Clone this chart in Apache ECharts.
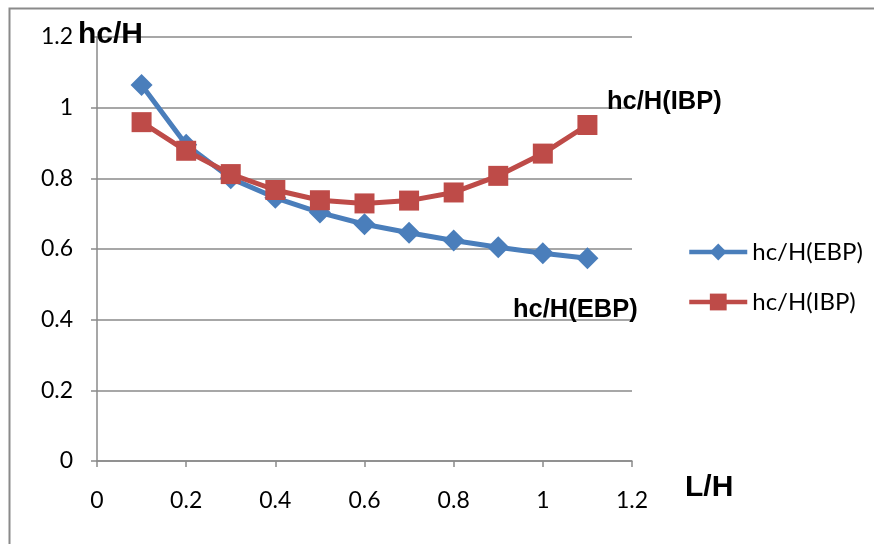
<!DOCTYPE html>
<html>
<head>
<meta charset="utf-8">
<script src="https://cdn.jsdelivr.net/npm/echarts@6/dist/echarts.min.js"></script>
<style>
  html, body { margin: 0; padding: 0; background: #fff; }
  #chart { width: 874px; height: 544px; }
</style>
</head>
<body>
<div id="chart"></div>
<script>
// L/H positions and relative heights hc/H for the two methods
const lhValues = [0.1, 0.2, 0.3, 0.4, 0.5, 0.6, 0.7, 0.8, 0.9, 1.0, 1.1];
const ebpValues = [1.064, 0.895, 0.800, 0.745, 0.703, 0.670, 0.646, 0.624, 0.605, 0.588, 0.574];
const ibpValues = [0.959, 0.878, 0.812, 0.767, 0.738, 0.729, 0.737, 0.760, 0.807, 0.870, 0.951];
const seriesNames = ['hc/H(EBP)', 'hc/H(IBP)'];

const pairs = (ys) => lhValues.map((x, i) => [x, ys[i]]);

const gray = '#8a8a8a';
const tickFont = { fontFamily: 'Lato', fontSize: 23, color: '#000' };
const boldFont = { fontFamily: 'Liberation Sans', fontWeight: 'bold', fill: '#000' };

const chart = echarts.init(document.getElementById('chart'), null, { renderer: 'canvas' });
chart.setOption({
  animation: false,
  backgroundColor: '#fff',
  grid: { left: 97, top: 37, right: 242, bottom: 83 },
  xAxis: {
    type: 'value', min: 0, max: 1.2, interval: 0.2,
    axisLine: { show: true, lineStyle: { color: gray, width: 1.5 } },
    axisTick: { show: true, length: 6, lineStyle: { color: gray, width: 1.5 } },
    splitLine: { show: false },
    axisLabel: Object.assign({ margin: 28 }, tickFont)
  },
  yAxis: {
    type: 'value', min: 0, max: 1.2, interval: 0.2,
    axisLine: { show: true, lineStyle: { color: gray, width: 1.5 } },
    axisTick: { show: true, length: 6, lineStyle: { color: gray, width: 1.5 } },
    splitLine: { show: true, lineStyle: { color: gray, width: 1.5 } },
    axisLabel: Object.assign({ margin: 24 }, tickFont)
  },
  legend: {
    orient: 'vertical', left: 682, top: 235, itemGap: 26,
    itemWidth: 58, itemHeight: 21,
    lineStyle: { width: 4.5 },
    textStyle: { fontFamily: 'Lato', fontSize: 24, color: '#000' },
    data: seriesNames
  },
  series: [
    {
      name: seriesNames[0], type: 'line', data: pairs(ebpValues),
      symbol: 'diamond', symbolSize: 22,
      lineStyle: { color: '#4a7ebb', width: 5 },
      itemStyle: { color: '#4a7ebb' }, z: 2
    },
    {
      name: seriesNames[1], type: 'line', data: pairs(ibpValues),
      symbol: 'rect', symbolSize: 20,
      lineStyle: { color: '#be4b48', width: 5 },
      itemStyle: { color: '#be4b48' }, z: 3
    }
  ],
  graphic: [
    { type: 'rect', shape: { x: 9.5, y: 8.5, width: 900, height: 600 },
      style: { fill: 'none', stroke: gray, lineWidth: 2 }, silent: true },
    { type: 'text', left: 78, top: 20, z: 10,
      style: Object.assign({ text: 'hc/H', fontSize: 30 }, boldFont) },
    { type: 'text', left: 685, top: 473, z: 10,
      style: Object.assign({ text: 'L/H', fontSize: 30 }, boldFont) },
    { type: 'text', left: 607, top: 89, z: 10,
      style: Object.assign({ text: 'hc/H(IBP)', fontSize: 25.5 }, boldFont) },
    { type: 'text', left: 513, top: 297, z: 10,
      style: Object.assign({ text: 'hc/H(EBP)', fontSize: 25.5 }, boldFont) }
  ]
});
</script>
</body>
</html>
